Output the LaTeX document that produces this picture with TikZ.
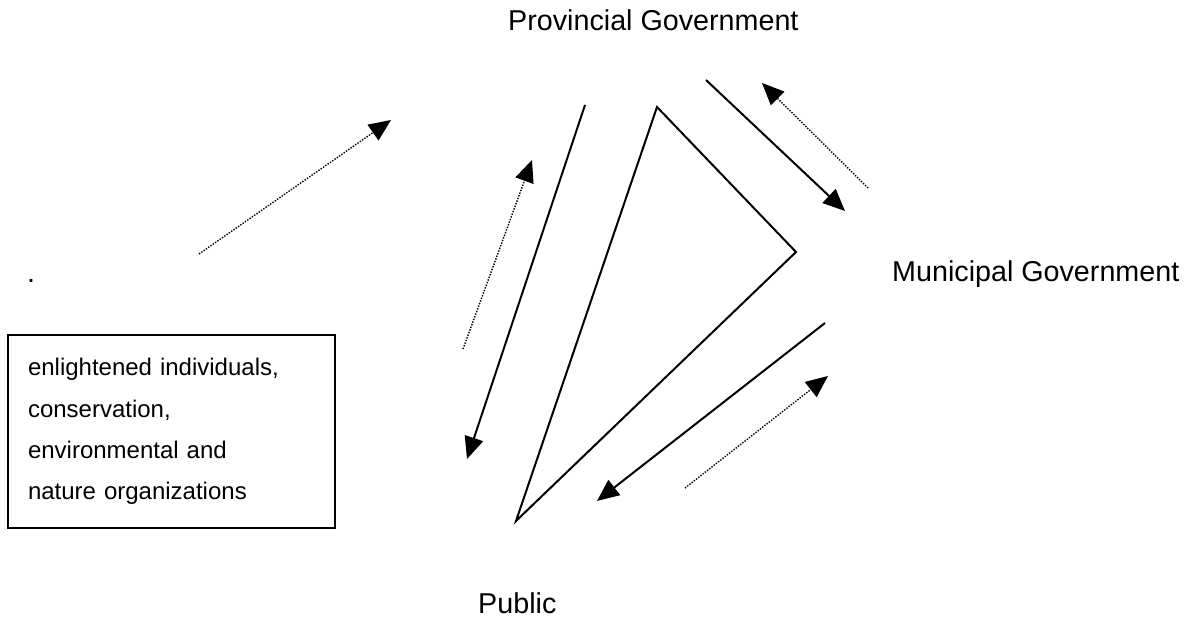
\documentclass[tikz,border=0pt]{standalone}
\usepackage{fontspec}
\setmainfont{Liberation Sans}
\usetikzlibrary{arrows.meta}

\begin{document}
\begin{tikzpicture}[
    x=1pt, y=-1pt,
    party/.style={anchor=base west, inner sep=0pt, font=\fontsize{28.7}{34}\selectfont},
    box/.style={rectangle, draw, line width=1.7pt, minimum width=327pt, minimum height=193pt, text width=287pt, inner xsep=20pt, inner ysep=0pt, align=left, font=\fontsize{24}{41.3}\selectfont},
    arrow/.style={-{Triangle[length=22pt, width=19pt]}, line width=2pt},
    dotarrow/.style={-{Triangle[length=22pt, width=19pt]}, line width=1.4pt, dash pattern=on 1.4pt off 1.4pt},
    wedge/.style={line width=2pt, line join=miter}
]
\useasboundingbox (0,0) rectangle (1191,620);

% Nodes
\node[party] (prov) at (508,31) {Provincial Government};
\node[party] (muni) at (892,282) {Municipal Government};
\node[party] (public) at (478,613) {Public};
\node[party] (dot) at (27,283) {.};
\node[box] (groups) at (171.5,431.5) {enlightened individuals,\\conservation,\\environmental and\\nature organizations};

% Wedge corners
\coordinate (top) at (657,107);
\coordinate (right) at (796,252);
\coordinate (bottom) at (516,521);

% Arrow ends
\coordinate (pp-start) at (585,105);
\coordinate (pp-end) at (467,459);
\coordinate (pm-start) at (706,80);
\coordinate (pm-end) at (845,211);
\coordinate (mp-start) at (825,323);
\coordinate (mp-end) at (597,501);
\coordinate (gp-start) at (199,254);
\coordinate (gp-end) at (391,120);
\coordinate (up-start) at (463,349);
\coordinate (up-end) at (532,160);
\coordinate (mu-start) at (868,188);
\coordinate (mu-end) at (762,83);
\coordinate (um-start) at (685,488);
\coordinate (um-end) at (828,376);

% Wedge
\draw[wedge] (bottom) -- (top) -- (right) -- cycle;

% Arrows
\draw[arrow] (pp-start) -- (pp-end);
\draw[arrow] (pm-start) -- (pm-end);
\draw[arrow] (mp-start) -- (mp-end);
\draw[dotarrow] (gp-start) -- (gp-end);
\draw[dotarrow] (up-start) -- (up-end);
\draw[dotarrow] (mu-start) -- (mu-end);
\draw[dotarrow] (um-start) -- (um-end);

\end{tikzpicture}
\end{document}
